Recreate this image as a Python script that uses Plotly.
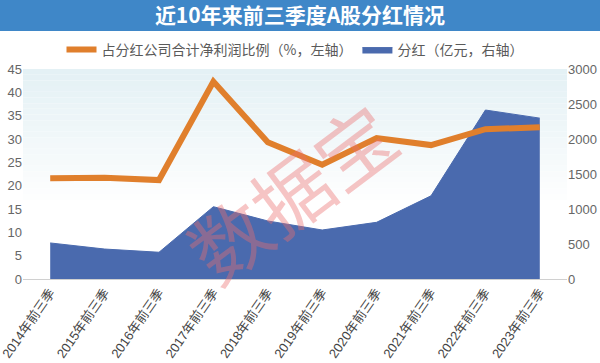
import plotly.graph_objects as go

categories = ["2014年前三季", "2015年前三季", "2016年前三季", "2017年前三季", "2018年前三季",
              "2019年前三季", "2020年前三季", "2021年前三季", "2022年前三季", "2023年前三季"]
ratio_pct = [21.6, 21.7, 21.2, 42.3, 29.3, 24.5, 30.2, 28.7, 32.1, 32.5]
dividend = [515, 428, 382, 1033, 829, 700, 810, 1188, 2414, 2298]

left_ticks = [0, 5, 10, 15, 20, 25, 30, 35, 40, 45]
right_ticks = [0, 500, 1000, 1500, 2000, 2500, 3000]

PH = 210.0
PW = 544.0

fig = go.Figure()
fig.add_trace(go.Scatter(
    x=categories, y=dividend, name="分红（亿元，右轴）", yaxis="y",
    mode="lines", fill="tozeroy", line=dict(color="#4a6aae", width=1),
    fillcolor="#4a6aae"))
fig.add_trace(go.Scatter(
    x=categories, y=ratio_pct, name="占分红公司合计净利润比例（%，左轴）", yaxis="y2",
    mode="lines", line=dict(color="#e07f2c", width=6)))

# gradient plot background
shapes = []
n = 24
for i in range(n):
    y0 = 1 - (i + 1) / n * 0.65
    y1 = 1 - i / n * 0.65
    t = i / (n - 1)
    r = int(228 + (255 - 228) * t)
    g = int(241 + (255 - 241) * t)
    b = int(245 + (255 - 245) * t)
    shapes.append(dict(type="rect", xref="paper", yref="paper", x0=0, x1=1, y0=y0, y1=y1,
                       fillcolor=f"rgb({r},{g},{b})", line=dict(width=0), layer="below"))
# title bar
shapes.append(dict(type="rect", xref="paper", yref="paper", x0=-30 / PW, x1=1 + 40 / PW,
                   y0=1 + (69 - 31) / PH, y1=1 + 75 / PH,
                   fillcolor="#3f87c8", line=dict(width=0), layer="below"))

fig.update_layout(
    width=600, height=363,
    margin=dict(l=23, r=33, t=69, b=84, autoexpand=False),
    paper_bgcolor="white", plot_bgcolor="rgba(0,0,0,0)",
    font=dict(family="Noto Sans CJK SC, sans-serif", color="#666666"),
    title=dict(text="<b>近10年来前三季度A股分红情况</b>", x=0.5, xanchor="center",
               y=1 - 16 / 363, yanchor="middle", font=dict(size=21, color="white")),
    showlegend=True,
    legend=dict(orientation="h", x=0.5, xanchor="center", y=1 + 19 / PH, yanchor="middle",
                font=dict(size=14, color="#5a5a5a"), traceorder="reversed",
                bgcolor="rgba(0,0,0,0)", itemwidth=30),
    xaxis=dict(type="category", range=[-0.5, 9.5], tickangle=-55, showgrid=False,
               showline=True, linecolor="#d0d0d0", linewidth=1, ticks="", automargin=False,
               tickfont=dict(size=13, color="#444444", family="Liberation Sans, Noto Sans CJK SC")),
    yaxis=dict(range=[0, 3000], tickvals=right_ticks, side="right", automargin=False,
               showgrid=False, zeroline=False, showline=False, ticks="",
               tickfont=dict(size=13, color="#666666", family="Liberation Sans")),
    yaxis2=dict(range=[0, 45], tickvals=left_ticks, overlaying="y", side="left", automargin=False,
                showgrid=False, zeroline=False, showline=False, ticks="",
                tickfont=dict(size=13, color="#666666", family="Liberation Sans")),
    shapes=shapes,
    annotations=[dict(text="数据宝", xref="paper", yref="paper", x=0.49, y=0.42,
                      showarrow=False, textangle=-37,
                      font=dict(size=78, color="rgba(235,110,110,0.4)",
                                family="Noto Sans CJK SC"))],
)

fig.write_html("out.html", config={"displayModeBar": False},
               post_script="document.body.style.margin='0px';document.body.style.padding='0px';")
